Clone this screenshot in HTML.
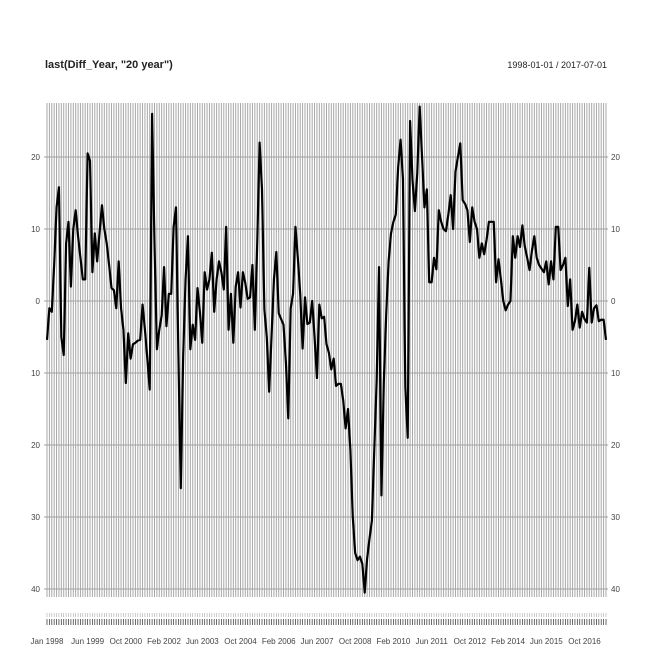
<!DOCTYPE html>
<html><head><meta charset="utf-8"><style>
html,body{margin:0;padding:0;background:#fff;}
svg{display:block;font-family:"Liberation Sans",sans-serif;}
</style></head><body>
<svg id="chart" width="653" height="653" viewBox="0 0 653 653" xmlns="http://www.w3.org/2000/svg">
<text x="45" y="68" font-size="11" font-weight="bold" fill="#222">last(Diff_Year, "20 year")</text>
<text x="607" y="68" font-size="9" fill="#222" text-anchor="end">1998-01-01 / 2017-07-01</text>
<g id="grid"></g>
<g id="axes"></g>
<g id="series"></g>
</svg>
<script>
const yTicks = [20, 10, 0, -10, -20, -30, -40];
const yTickLabels = ["20", "10", "0", "10", "20", "30", "40"];
const xLabelIdx = [0,17,33,49,65,81,97,113,129,145,161,177,193,209,225];
const xLabels = ["Jan 1998","Jun 1999","Oct 2000","Feb 2002","Jun 2003","Oct 2004","Feb 2006","Jun 2007","Oct 2008","Feb 2010","Jun 2011","Oct 2012","Feb 2014","Jun 2015","Oct 2016"];
const values = [
-5.4,-1,-1.5,5,13,15.8,-5,-7.5,8,11,
2,10,12.6,9,6,3,3,20.5,19.5,4,
9.4,5.5,9.5,13.3,10,8,5,1.8,1.5,-1,
5.5,-1,-4,-11.4,-4.5,-8,-6,-5.8,-5.5,-5.4,
-0.5,-4,-8,-12.3,26,8,-6.7,-4,-2,4.7,
-3.5,1,1,10.3,13,-7.4,-26,-7.7,3,9,
-6.7,-3.3,-5.4,1.8,-1.5,-5.8,4,1.6,3,6.7,
-1.5,3,5.5,4,1.6,10.3,-4,1,-5.8,2,
4,
-0.9,4,2.5,0.3,0.5,5,-4,8,22,15.5,
-1.2,-5,-12.6,-4.8,3,6.8,-1.7,-2.5,-3.3,-8.5,
-16.3,-1,1,10.3,6,1,-6.6,0.5,-3.2,-3,
0,-5,-10.7,-0.5,-2.4,-2.2,-6,-7.2,-9.5,-8,
-11.8,-11.5,-11.5,-13.8,-17.7,-15,-20.7,-30,-35,-36,
-35.5,-36.5,-40.5,
-35.8,-33,-30.5,-20.7,-11,4.7,-27,-11.2,-1.8,5.5,
9.4,11,12,18.6,22.4,17,-11.9,-19,25,16.8,12.5,17.8,
27,20,13,15.5,2.6,2.6,6,4.4,12.6,11,
10,9.7,12,14.7,10,18,20,21.9,14,13.5,
12.6,8.2,13,11,10,6,8,6.5,8.5,11,
11,11,2.6,5.8,3,0,-1.3,-0.5,0,9,
6,9,7.5,10.5,7.6,6,4.3,7,9,6,
5,4.5,4,5.5,2.3,5.5,3,10.3,10.3,4.3,
5,6,-0.7,3,-4,-2.8,-0.5,-3.7,-1.5,-2.5,
-3,4.6,-3,-1,-0.6,-2.8,-2.6,-2.6,-5.4
];
const NS="http://www.w3.org/2000/svg";
const L=47, R=606, TOP=103, BOT=597;
const n=values.length;
function xs(i){return L+i*(R-L)/(n-1);}
function ys(v){return 301 - v*7.2;}
function mk(tag,attrs,parent){const e=document.createElementNS(NS,tag);for(const k in attrs)e.setAttribute(k,attrs[k]);parent.appendChild(e);return e;}
const grid=document.getElementById('grid'), axes=document.getElementById('axes'), series=document.getElementById('series');
for(let i=0;i<n;i++){
  const x=xs(i).toFixed(2);
  const g=mk('line',{x1:x,x2:x,y1:TOP,y2:BOT,stroke:'#a8a8a8','stroke-width':1},grid);
  
  
  const t=mk('line',{x1:x,x2:x,y1:619,y2:625,stroke:'#444','stroke-width':0.8},axes);
  
  
  const m=mk('line',{x1:x,x2:x,y1:613,y2:617,stroke:'#aaa','stroke-width':0.6},axes);
  
  
}
yTicks.forEach((v,k)=>{
  const y=ys(v);
  const h=mk('line',{x1:44,x2:608,y1:y,y2:y,stroke:'#a0a0a0','stroke-width':1},grid);
  
  
  const a=mk('text',{x:40,y:y+3,'font-size':8,fill:'#444','text-anchor':'end'},axes);
  a.textContent=yTickLabels[k];
  
  
  const b=mk('text',{x:611,y:y+3,'font-size':8,fill:'#444'},axes);
  b.textContent=yTickLabels[k];
  
  
});
xLabelIdx.forEach((idx,k)=>{
  const t=mk('text',{x:xs(idx),y:644,'font-size':8,fill:'#444','text-anchor':'middle'},axes);
  t.textContent=xLabels[k];
  
  
});
let d='';
values.forEach((v,i)=>{d+=(i?'L':'M')+xs(i).toFixed(2)+','+ys(v).toFixed(2);});
const p=mk('path',{d:d,fill:'none',stroke:'#000','stroke-width':2.2,'stroke-linejoin':'round'},series);


</script>
</body></html>
